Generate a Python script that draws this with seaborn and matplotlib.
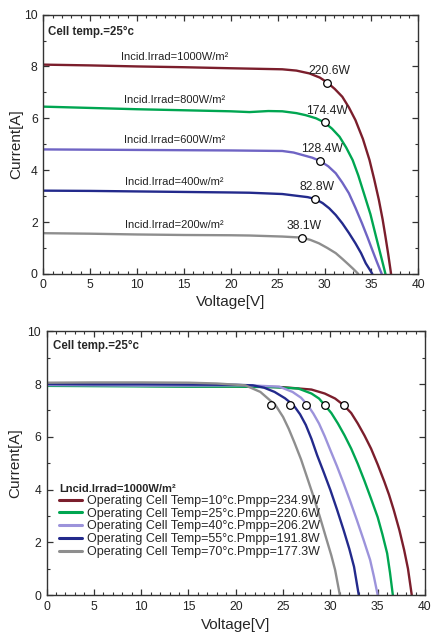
import matplotlib
matplotlib.use('Agg')
import numpy as np
import matplotlib.pyplot as plt
import seaborn as sns
from matplotlib.ticker import MultipleLocator


# top panel: I-V curves at different irradiance (cell temp 25 C)
v_1000 = [0, 5, 10, 15, 20, 25.5, 27, 28.4, 29.5, 30.3, 31.1, 31.9, 32.6, 33.3, 34.1, 34.8, 35.3, 35.8, 36.2, 36.5, 36.8, 37.1]
i_1000 = [8.07, 8.04, 8.0, 7.97, 7.93, 7.89, 7.84, 7.73, 7.57, 7.38, 7.13, 6.83, 6.42, 5.93, 5.2, 4.39, 3.65, 2.85, 2.1, 1.44, 0.75, 0]

v_800 = [0, 5, 10, 15, 20, 22, 24, 25.5, 27, 28, 29.1, 30.0, 30.8, 31.6, 32.3, 33.0, 33.6, 34.2, 34.9, 35.5, 36.0, 36.5]
i_800 = [6.45, 6.4, 6.35, 6.31, 6.27, 6.24, 6.28, 6.27, 6.2, 6.12, 6.0, 5.84, 5.6, 5.29, 4.88, 4.39, 3.8, 3.11, 2.3, 1.43, 0.72, 0]

v_600 = [0, 5, 10, 15, 20, 25.5, 26.7, 27.7, 28.7, 29.5, 30.4, 31.2, 31.9, 32.6, 33.3, 34.0, 34.6, 35.1, 35.6, 36.1]
i_600 = [4.8, 4.79, 4.78, 4.77, 4.76, 4.74, 4.68, 4.58, 4.48, 4.36, 4.15, 3.88, 3.52, 3.11, 2.55, 1.95, 1.4, 0.92, 0.45, 0]

v_400 = [0, 5, 10, 15, 20, 22, 25.5, 27.3, 28.2, 29.0, 29.8, 30.5, 31.2, 31.9, 32.6, 33.3, 33.9, 34.4, 34.8, 35.1]
i_400 = [3.21, 3.2, 3.18, 3.16, 3.14, 3.13, 3.08, 3.0, 2.96, 2.89, 2.73, 2.53, 2.27, 1.95, 1.58, 1.18, 0.8, 0.41, 0.18, 0]

v_200 = [0, 5, 10, 15, 20, 22, 25.5, 27.6, 28.5, 29.4, 30.3, 31.2, 31.9, 32.6, 33.1, 33.6]
i_200 = [1.57, 1.55, 1.52, 1.5, 1.49, 1.48, 1.44, 1.40, 1.31, 1.18, 1.0, 0.8, 0.58, 0.35, 0.18, 0]

irrad_labels = ['Incid.Irrad=1000W/m²', 'Incid.Irrad=800W/m²', 'Incid.Irrad=600W/m²',
                'Incid.Irrad=400w/m²', 'Incid.Irrad=200w/m²']
mpp_v_top = [30.3, 30.0, 29.5, 29.0, 27.6]
mpp_i_top = [7.38, 5.84, 4.36, 2.89, 1.40]
mpp_labels_top = ['220.6W', '174.4W', '128.4W', '82.8W', '38.1W']

# bottom panel: I-V curves at different cell temperature (1000 W/m2)
v_10 = [0, 5, 10, 15, 20, 25, 28.0, 29.4, 30.5, 31.4, 32.2, 32.9, 33.6, 34.3, 35.0, 35.7, 36.2, 36.7, 37.3, 37.8, 38.2, 38.6]
i_10 = [7.95, 7.94, 7.93, 7.92, 7.91, 7.88, 7.79, 7.64, 7.45, 7.2, 6.9, 6.5, 6.05, 5.55, 4.95, 4.3, 3.8, 3.22, 2.45, 1.7, 1.0, 0]

v_25 = [0, 5, 10, 15, 20, 24, 26.6, 28.0, 28.8, 29.4, 30.1, 30.8, 31.5, 32.2, 32.9, 33.6, 34.3, 35.0, 35.5, 36.0, 36.3, 36.6]
i_25 = [7.93, 7.92, 7.91, 7.9, 7.9, 7.88, 7.83, 7.64, 7.45, 7.2, 6.9, 6.5, 6.05, 5.55, 4.97, 4.33, 3.65, 2.95, 2.3, 1.58, 0.85, 0]

v_40 = [0, 5, 10, 15, 20, 22, 24.6, 26.0, 26.9, 27.6, 28.2, 28.8, 29.4, 30.0, 30.7, 31.4, 32.1, 32.8, 33.5, 34.2, 34.6, 35.0]
i_40 = [7.96, 7.95, 7.94, 7.94, 7.95, 7.94, 7.9, 7.7, 7.48, 7.2, 6.88, 6.5, 6.02, 5.49, 4.88, 4.23, 3.55, 2.84, 2.1, 1.33, 0.7, 0]

v_55 = [0, 5, 10, 15, 20, 21.8, 23.0, 24.1, 25.2, 26.1, 26.8, 27.4, 28.0, 28.6, 29.3, 30.0, 30.7, 31.4, 32.0, 32.5, 33.0]
i_55 = [8.0, 7.99, 7.99, 7.98, 7.97, 7.95, 7.86, 7.7, 7.46, 7.2, 6.85, 6.45, 5.92, 5.3, 4.65, 3.98, 3.24, 2.46, 1.75, 1.07, 0]

v_70 = [0, 5, 10, 15, 18, 21.0, 22.6, 24.2, 25.0, 25.6, 26.2, 26.9, 27.5, 28.2, 28.9, 29.6, 30.1, 30.5, 31.0]
i_70 = [8.05, 8.06, 8.06, 8.05, 8.02, 7.95, 7.7, 7.2, 6.75, 6.3, 5.78, 5.14, 4.5, 3.75, 2.95, 2.1, 1.5, 0.95, 0]

temp_labels = ['Operating Cell Temp=10°c.Pmpp=234.9W', 'Operating Cell Temp=25°c.Pmpp=220.6W',
               'Operating Cell Temp=40°c.Pmpp=206.2W', 'Operating Cell Temp=55°c.Pmpp=191.8W',
               'Operating Cell Temp=70°c.Pmpp=177.3W']
mpp_v_bot = [31.4, 29.4, 27.4, 25.7, 23.7]
mpp_i_bot = [7.2, 7.2, 7.2, 7.2, 7.2]

top_colors = ['#7b1e2c', '#00a651', '#6f64c4', '#232a8c', '#8e8e8e']
bot_colors = ['#7b1e2c', '#00a651', '#9c93db', '#232a8c', '#8e8e8e']


def style_axis(ax):
    ax.set_xlim(0, 40)
    ax.set_ylim(0, 10)
    ax.xaxis.set_major_locator(MultipleLocator(5))
    ax.xaxis.set_minor_locator(MultipleLocator(1))
    ax.yaxis.set_major_locator(MultipleLocator(2))
    ax.yaxis.set_minor_locator(MultipleLocator(1))
    ax.tick_params(which='both', direction='in', top=True, right=True,
                   color='#333333', labelsize=8.7, labelcolor='#222222', pad=4)
    ax.tick_params(which='major', length=4, width=0.9)
    ax.tick_params(which='minor', length=2.2, width=0.8)
    for s in ax.spines.values():
        s.set_color('#333333')
        s.set_linewidth(1.0)
    ax.set_xlabel('Voltage[V]', fontsize=11)
    ax.set_ylabel('Current[A]', fontsize=11)


sns.set_style('ticks')
plt.rcParams['font.family'] = ['Liberation Sans', 'DejaVu Sans']

fig = plt.figure(figsize=(4.35, 6.34), dpi=100)
ax1 = fig.add_axes([0.0995, 0.568, 0.862, 0.409])
ax2 = fig.add_axes([0.107, 0.0615, 0.870, 0.416])

# top
top_v = [v_1000, v_800, v_600, v_400, v_200]
top_i = [i_1000, i_800, i_600, i_400, i_200]
for v, i, c, lab in zip(top_v, top_i, top_colors, irrad_labels):
    sns.lineplot(x=v, y=i, color=c, linewidth=1.7, ax=ax1)
    ax1.annotate(lab, xy=(14, np.interp(14, v, i)), xytext=(0, 7), textcoords='offset points',
                 ha='center', va='center', fontsize=8, color='#222222')
sns.scatterplot(x=mpp_v_top, y=mpp_i_top, s=30, facecolor='white', edgecolor='black',
                linewidth=0.9, zorder=5, ax=ax1)
for v, i, lab in zip(mpp_v_top, mpp_i_top, mpp_labels_top):
    ax1.annotate(lab, xy=(v, i), xytext=(1.5, 8.5), textcoords='offset points',
                 ha='center', va='center', fontsize=8.7, color='#222222')
ax1.text(0.5, 9.33, 'Cell temp.=25°c', fontsize=8.3, fontweight='bold', va='center')
style_axis(ax1)
ax1.yaxis.set_label_coords(-0.054, 0.5)
ax1.xaxis.set_label_coords(0.5, -0.081)

# bottom
bot_v = [v_10, v_25, v_40, v_55, v_70]
bot_i = [i_10, i_25, i_40, i_55, i_70]
for v, i, c, lab in zip(bot_v, bot_i, bot_colors, temp_labels):
    sns.lineplot(x=v, y=i, color=c, linewidth=1.7, label=lab, ax=ax2)
sns.scatterplot(x=mpp_v_bot, y=mpp_i_bot, s=30, facecolor='white', edgecolor='black',
                linewidth=0.9, zorder=5, ax=ax2)
ax2.text(0.67, 9.43, 'Cell temp.=25°c', fontsize=8.3, fontweight='bold', va='center')
leg = ax2.legend(loc='upper left', bbox_to_anchor=(0.033, 0.42), frameon=False,
                 title='Lncid.Irrad=1000W/m²', alignment='left',
                 title_fontproperties={'weight': 'bold', 'size': 8},
                 fontsize=9, handlelength=1.8, handletextpad=0.45,
                 labelspacing=0.06, borderpad=0, borderaxespad=0)
for h in leg.get_lines():
    h.set_linewidth(2.2)
style_axis(ax2)
ax2.yaxis.set_label_coords(-0.063, 0.5)
ax2.xaxis.set_label_coords(0.5, -0.087)

fig.savefig('out.png', dpi=100)
